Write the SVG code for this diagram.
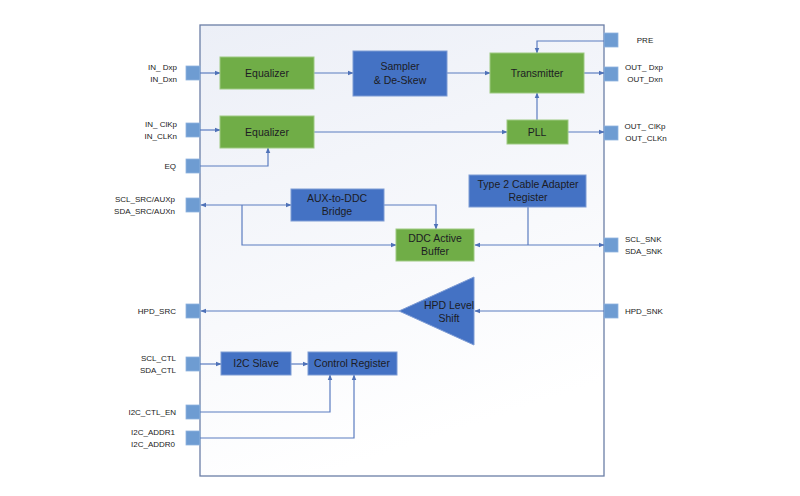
<svg xmlns="http://www.w3.org/2000/svg" width="800" height="496" viewBox="0 0 800 496">
<defs>
<linearGradient id="bg" x1="0" y1="0" x2="0.3" y2="1">
<stop offset="0" stop-color="#eceff7"/>
<stop offset="1" stop-color="#ffffff"/>
</linearGradient>
<marker id="ah" viewBox="0 0 10 10" refX="9" refY="5" markerWidth="6" markerHeight="6" orient="auto-start-reverse" markerUnits="userSpaceOnUse">
<path d="M0,1 L10,5 L0,9 z" fill="#4f72b8"/>
</marker>
<style>
.pin{fill:#6e9cd2;stroke:#8fb3de;stroke-width:0.8}
.g{fill:#70ad47;stroke:#9dc982;stroke-width:1}
.b{fill:#4472c4;stroke:#7d9bd4;stroke-width:1}
.lbl{font-family:"Liberation Sans",Arial,sans-serif;font-size:8px;fill:#1a1a1a}
.bt{font-family:"Liberation Sans",Arial,sans-serif;font-size:10.5px;fill:#1c1c24;text-anchor:middle}
.c{fill:none;stroke:#5b7cc0;stroke-width:1.2}
.ca{fill:none;stroke:#5b7cc0;stroke-width:1.2;marker-end:url(#ah)}
.cb{fill:none;stroke:#5b7cc0;stroke-width:1.2;marker-end:url(#ah);marker-start:url(#ah)}
</style>
</defs>
<rect width="800" height="496" fill="#ffffff"/>
<g id="chip">
<rect x="200" y="25" width="404" height="451" fill="url(#bg)" stroke="#6b7ea6" stroke-width="1.3"/>
</g>
<g id="pins">
<rect class="pin" x="186" y="66" width="14" height="14"/>
<rect class="pin" x="186" y="123" width="14" height="14"/>
<rect class="pin" x="186" y="159" width="14" height="14"/>
<rect class="pin" x="186" y="198" width="14" height="14"/>
<rect class="pin" x="186" y="304" width="14" height="14"/>
<rect class="pin" x="186" y="357" width="14" height="14"/>
<rect class="pin" x="186" y="405" width="14" height="14"/>
<rect class="pin" x="186" y="431" width="14" height="14"/>
<rect class="pin" x="604" y="33" width="14" height="14"/>
<rect class="pin" x="604" y="67" width="14" height="14"/>
<rect class="pin" x="604" y="126" width="14" height="14"/>
<rect class="pin" x="604" y="238" width="14" height="14"/>
<rect class="pin" x="604" y="304" width="14" height="14"/>
</g>
<g id="pin-labels">
<text class="lbl" text-anchor="end" x="177" y="70">IN_ Dxp</text>
<text class="lbl" text-anchor="end" x="177" y="82">IN_Dxn</text>
<text class="lbl" text-anchor="end" x="177" y="127">IN_ ClKp</text>
<text class="lbl" text-anchor="end" x="177" y="139">IN_CLKn</text>
<text class="lbl" text-anchor="end" x="176" y="169">EQ</text>
<text class="lbl" text-anchor="end" x="175" y="202">SCL_SRC/AUXp</text>
<text class="lbl" text-anchor="end" x="175" y="214">SDA_SRC/AUXn</text>
<text class="lbl" text-anchor="end" x="176" y="314">HPD_SRC</text>
<text class="lbl" text-anchor="end" x="176" y="361">SCL_CTL</text>
<text class="lbl" text-anchor="end" x="176" y="373">SDA_CTL</text>
<text class="lbl" text-anchor="end" x="176" y="415">I2C_CTL_EN</text>
<text class="lbl" text-anchor="end" x="175" y="435">I2C_ADDR1</text>
<text class="lbl" text-anchor="end" x="175" y="447">I2C_ADDR0</text>
<text class="lbl" text-anchor="middle" x="645" y="43">PRE</text>
<text class="lbl" text-anchor="middle" x="644" y="70">OUT_ Dxp</text>
<text class="lbl" text-anchor="middle" x="645" y="82">OUT_Dxn</text>
<text class="lbl" text-anchor="middle" x="645" y="129">OUT_ ClKp</text>
<text class="lbl" text-anchor="middle" x="646" y="141">OUT_CLKn</text>
<text class="lbl" x="625" y="242">SCL_SNK</text>
<text class="lbl" x="625" y="254">SDA_SNK</text>
<text class="lbl" x="625" y="314">HPD_SNK</text>
</g>
<g id="connectors">
<path class="ca" d="M200,73 H220"/>
<path class="ca" d="M314,73 H353"/>
<path class="ca" d="M447,73 H490"/>
<path class="ca" d="M584,73 H604"/>
<path class="ca" d="M604,41 H537 V53"/>
<path class="ca" d="M537,120 V93"/>
<path class="ca" d="M200,130 H220"/>
<path class="ca" d="M314,132 H507"/>
<path class="ca" d="M568,132 H604"/>
<path class="ca" d="M200,166 H268 V148"/>
<path class="cb" d="M201,205 H291"/>
<path class="ca" d="M242,205 V245 H396"/>
<path class="ca" d="M384,205 H436 V229"/>
<path class="cb" d="M475,245 H604"/>
<path class="c" d="M528,207 V245"/>
<path class="ca" d="M604,311 H475"/>
<path class="ca" d="M399,311 H201"/>
<path class="ca" d="M200,364 H221"/>
<path class="ca" d="M291,364 H308"/>
<path class="ca" d="M200,412 H330 V375"/>
<path class="ca" d="M200,438 H354 V375"/>
</g>
<g id="eq1"><rect class="g" x="220" y="57" width="94" height="32"/><text class="bt" x="267" y="77">Equalizer</text></g>
<g id="eq2"><rect class="g" x="220" y="116" width="94" height="32"/><text class="bt" x="267" y="136">Equalizer</text></g>
<g id="sampler"><rect class="b" x="353" y="51" width="94" height="45"/><text class="bt" x="400" y="70">Sampler</text><text class="bt" x="400" y="84">&amp; De-Skew</text></g>
<g id="transmitter"><rect class="g" x="490" y="53" width="94" height="40"/><text class="bt" x="537" y="77">Transmitter</text></g>
<g id="pll"><rect class="g" x="507" y="120" width="61" height="24"/><text class="bt" x="537" y="136">PLL</text></g>
<g id="type2"><rect class="b" x="469" y="175" width="117" height="32"/><text class="bt" x="528" y="188">Type 2 Cable Adapter</text><text class="bt" x="528" y="201">Register</text></g>
<g id="aux"><rect class="b" x="291" y="189" width="93" height="32"/><text class="bt" x="337" y="202">AUX-to-DDC</text><text class="bt" x="337" y="215">Bridge</text></g>
<g id="ddc"><rect class="g" x="396" y="229" width="78" height="32"/><text class="bt" x="435" y="242">DDC Active</text><text class="bt" x="435" y="255">Buffer</text></g>
<g id="hpd"><polygon class="b" points="399,311 474,277 474,345"/><text class="bt" x="449" y="309">HPD Level</text><text class="bt" x="449" y="322">Shift</text></g>
<g id="i2c"><rect class="b" x="221" y="352" width="70" height="23"/><text class="bt" x="256" y="367">I2C Slave</text></g>
<g id="ctrl"><rect class="b" x="308" y="352" width="89" height="23"/><text class="bt" x="352" y="367">Control Register</text></g>
</svg>
